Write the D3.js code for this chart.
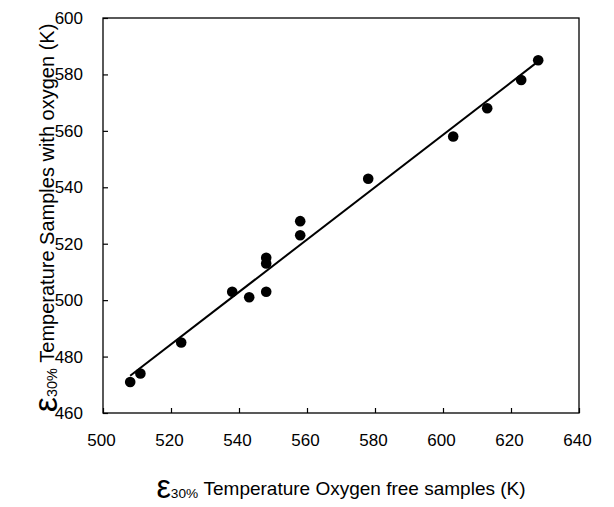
<!DOCTYPE html>
<html>
<head>
<meta charset="utf-8">
<script src="https://cdn.jsdelivr.net/npm/d3@7"></script>
<style>
  html, body { margin: 0; padding: 0; background: #fff; }
  svg { display: block; }
  text { font-family: "Liberation Sans", Arial, sans-serif; fill: #000; }
</style>
</head>
<body>
<svg id="chart" width="614" height="507"></svg>
<script>
// ---- data ----
const xFree = [508, 511, 523, 538, 543, 548, 548, 548, 558, 558, 578, 603, 613, 623, 628];
const yOxygen = [471, 474, 485, 503, 501, 503, 515, 513, 523, 528, 543, 558, 568, 578, 585];
const xTicks = [500, 520, 540, 560, 580, 600, 620, 640];
const yTicks = [460, 480, 500, 520, 540, 560, 580, 600];
const xDomain = [500, 640];
const yDomain = [460, 600];

(function () {
const svg = d3.select("#chart");
const pL = 103, pR = 579, pT = 18, pB = 413;

const x = d3.scaleLinear().domain(xDomain).range([pL, pR]);
const y = d3.scaleLinear().domain(yDomain).range([pB, pT]);

// frame
svg.append("rect")
  .attr("x", pL).attr("y", pT)
  .attr("width", pR - pL).attr("height", pB - pT)
  .attr("fill", "none").attr("stroke", "#000").attr("stroke-width", 1.3);

// axes (ticks inside)
const xAxis = svg.append("g").attr("transform", `translate(0,${pB})`)
  .call(d3.axisBottom(x).tickValues(xTicks).tickSizeInner(-5).tickSizeOuter(0).tickPadding(21));
const yAxis = svg.append("g").attr("transform", `translate(${pL},0)`)
  .call(d3.axisLeft(y).tickValues(yTicks).tickSizeInner(-5).tickSizeOuter(0).tickPadding(20));
[xAxis, yAxis].forEach(g => {
  g.select(".domain").remove();
  g.selectAll(".tick line").attr("stroke", "#000").attr("stroke-width", 1.2);
  g.selectAll(".tick text")
    .style("font-family", '"Liberation Sans", Arial, sans-serif')
    .style("font-size", "17px").attr("fill", "#000");
});
xAxis.selectAll(".tick text").attr("dx", "-2");

// regression line
const n = xFree.length;
const mx = d3.mean(xFree), my = d3.mean(yOxygen);
let sxy = 0, sxx = 0;
for (let i = 0; i < n; i++) { sxy += (xFree[i] - mx) * (yOxygen[i] - my); sxx += (xFree[i] - mx) ** 2; }
const slope = sxy / sxx, icpt = my - slope * mx;
const [x0, x1] = d3.extent(xFree);
svg.append("path")
  .datum([x0, x1])
  .attr("d", d3.line().x(d => x(d)).y(d => y(icpt + slope * d)))
  .attr("fill", "none").attr("stroke", "#000").attr("stroke-width", 2);

// points
svg.append("g").selectAll("circle")
  .data(xFree.map((v, i) => [v, yOxygen[i]]))
  .join("circle")
  .attr("cx", d => x(d[0])).attr("cy", d => y(d[1]))
  .attr("r", 5.3).attr("fill", "#000");

// axis titles
function title(sel, rest, fs) {
  sel.append("tspan").attr("font-size", (fs * 1.7) + "px").attr("dy", "3").text("ε");
  sel.append("tspan").attr("font-size", (fs * 0.72) + "px").attr("dy", "0").text("30%");
  sel.append("tspan").attr("font-size", fs + "px").attr("dy", "-3").text(" " + rest);
}
const xt = svg.append("text")
  .attr("x", 341).attr("y", 495).attr("text-anchor", "middle");
title(xt, "Temperature Oxygen free samples (K)", 19);

const yt = svg.append("text")
  .attr("transform", "translate(54,218) rotate(-90)").attr("text-anchor", "middle");
title(yt, "Temperature Samples with oxygen (K)", 20);
})();
</script>
</body>
</html>
